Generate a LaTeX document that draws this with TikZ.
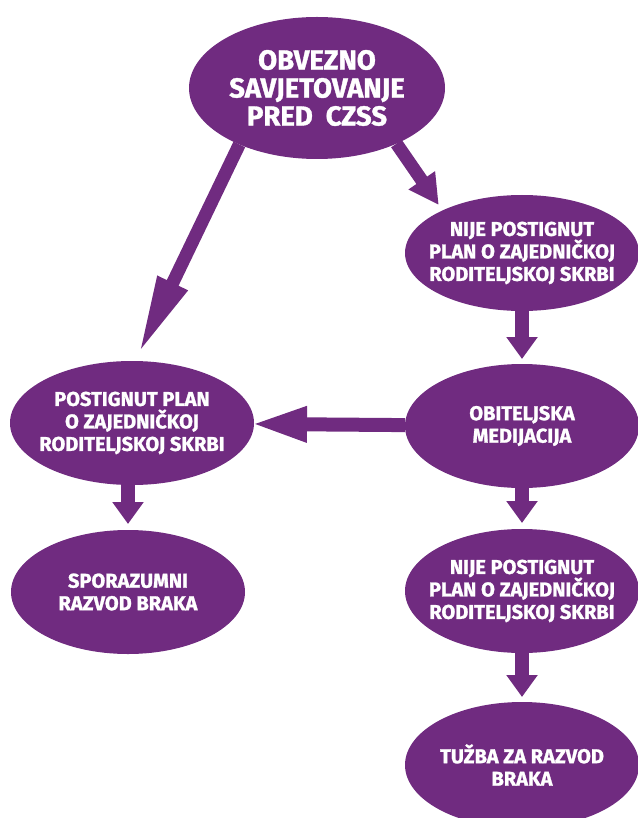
\documentclass[tikz,border=0pt]{standalone}
\usepackage{fontspec}
\setmainfont{Fira Sans}[BoldFeatures={FakeBold=1.3}]
\usetikzlibrary{shapes.geometric,arrows.meta,calc}
\definecolor{ljubicasta}{RGB}{112,43,128}
\begin{document}
\begin{tikzpicture}[x=1pt,y=-1pt,
    bubble/.style={ellipse, fill=ljubicasta, text=white, align=center,
      font=\bfseries\fontsize{20}{22.5}\selectfont, inner xsep=-35pt, inner ysep=0pt,
      outer sep=0pt, minimum width=234pt, minimum height=124pt},
    flow/.style={ljubicasta, line width=14pt, -{Triangle[length=22pt,width=30pt]}}]
    \useasboundingbox (0,0) rectangle (637,818);

    \node[bubble, minimum width=256pt, minimum height=142pt,
      font=\bfseries\fontsize{27.5}{28}\selectfont] (czss) at (317,88) {OBVEZNO\\SAVJETOVANJE\\PRED\ \ CZSS};
    \node[bubble, minimum height=116pt] (nije1) at (522,253) {NIJE POSTIGNUT\\PLAN O ZAJEDNIČKOJ\\RODITELJSKOJ SKRBI};
    \node[bubble, minimum width=244pt] (postignut) at (132,423) {POSTIGNUT PLAN\\O ZAJEDNIČKOJ\\RODITELJSKOJ SKRBI};
    \node[bubble] (obit) at (522,426) {OBITELJSKA\\MEDIJACIJA};
    \node[bubble] (sporazumni) at (128,592) {SPORAZUMNI\\RAZVOD BRAKA};
    \node[bubble] (nije2) at (522,591) {NIJE POSTIGNUT\\PLAN O ZAJEDNIČKOJ\\RODITELJSKOJ SKRBI};
    \node[bubble, minimum height=126pt] (tuzba) at (522,765) {TUŽBA ZA RAZVOD\\BRAKA};

    \draw[flow, line width=13pt, -{Triangle[length=80pt,width=30pt]}] (czss.216) -- ($(postignut.north)+(6,-6)$);
    \draw[flow, line width=13pt, -{Triangle[length=30pt,width=30pt]}] (czss.325) -- ($(nije1.150)+(-7,-4)$);
    \draw[flow, shorten >=5pt] (nije1) -- (obit);
    \draw[flow, -{Triangle[length=57pt,width=32pt]}, shorten >=-4pt] (obit) -- (postignut);
    \draw[flow, shorten >=6pt] (postignut.south -| sporazumni) -- (sporazumni);
    \draw[flow, shorten >=6pt] (obit) -- (nije2);
    \draw[flow, shorten >=5pt] (nije2) -- (tuzba);
\end{tikzpicture}
\end{document}
